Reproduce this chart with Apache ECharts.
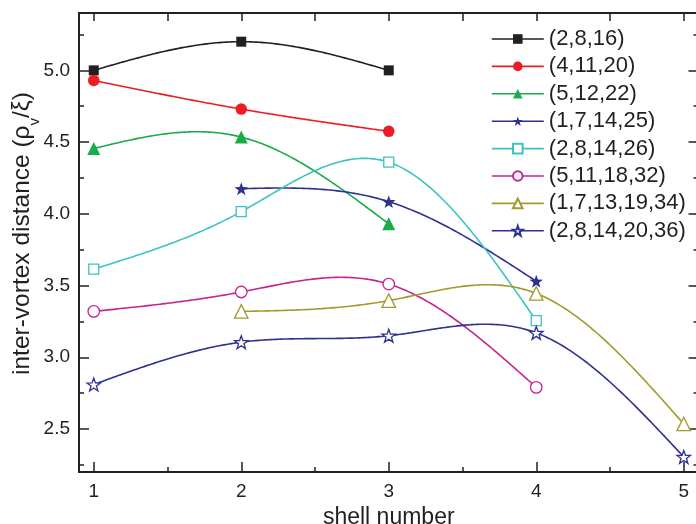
<!DOCTYPE html>
<html>
<head>
<meta charset="utf-8">
<script src="https://cdn.jsdelivr.net/npm/echarts@6/dist/echarts.min.js"></script>
<style>html,body{margin:0;padding:0;background:#fff;}#c{width:696px;height:524px;}</style>
</head>
<body>
<div id="c"></div>
<script>
// ---- data ----
var seriesNames = ['(2,8,16)','(4,11,20)','(5,12,22)','(1,7,14,25)','(2,8,14,26)','(5,11,18,32)','(1,7,13,19,34)','(2,8,14,20,36)'];
var shells1 = [1,2,3];       var vals1 = [5.00, 5.20, 5.00];
var shells2 = [1,2,3];       var vals2 = [4.93, 4.73, 4.575];
var shells3 = [1,2,3];       var vals3 = [4.455, 4.535, 3.93];
var shells4 = [2,3,4];       var vals4 = [4.175, 4.085, 3.53];
var shells5 = [1,2,3,4];     var vals5 = [3.615, 4.015, 4.36, 3.255];
var shells6 = [1,2,3,4];     var vals6 = [3.32, 3.455, 3.51, 2.79];
var shells7 = [2,3,4,5];     var vals7 = [3.32, 3.395, 3.445, 2.535];
var shells8 = [1,2,3,4,5];   var vals8 = [2.81, 3.105, 3.15, 3.17, 2.305];
var xTicks = [1,2,3,4,5];
var xMinorTicks = [1.5,2.5,3.5,4.5];
var yTicks = [2.5,3.0,3.5,4.0,4.5,5.0];
var yMinorTicks = [2.25,2.75,3.25,3.75,4.25,4.75,5.25];

var allShells = [shells1,shells2,shells3,shells4,shells5,shells6,shells7,shells8];
var allVals = [vals1,vals2,vals3,vals4,vals5,vals6,vals7,vals8];

function pairs(xs, ys){ return xs.map(function(x,i){ return [x, ys[i]]; }); }

// natural cubic spline (rendering of the connecting curve only)
function naturalSpline(xs, ys){
  var n = xs.length, M = new Array(n).fill(0);
  if (n > 2){
    var a=[],b=[],c=[],d=[];
    for (var i=1;i<n-1;i++){
      var h0 = xs[i]-xs[i-1], h1 = xs[i+1]-xs[i];
      a.push(h0); b.push(2*(h0+h1)); c.push(h1);
      d.push(6*((ys[i+1]-ys[i])/h1 - (ys[i]-ys[i-1])/h0));
    }
    var m = b.length;
    for (var k=1;k<m;k++){ var w=a[k]/b[k-1]; b[k]-=w*c[k-1]; d[k]-=w*d[k-1]; }
    var sol = new Array(m);
    sol[m-1] = d[m-1]/b[m-1];
    for (var k2=m-2;k2>=0;k2--) sol[k2] = (d[k2]-c[k2]*sol[k2+1])/b[k2];
    for (var j=0;j<m;j++) M[j+1]=sol[j];
  }
  return function(x){
    var i = 0;
    while (i < n-2 && x > xs[i+1]) i++;
    var h = xs[i+1]-xs[i], A=(xs[i+1]-x)/h, B=(x-xs[i])/h;
    return A*ys[i]+B*ys[i+1]+((A*A*A-A)*M[i]+(B*B*B-B)*M[i+1])*h*h/6;
  };
}

function starPath(){
  var pts = [];
  for (var i=0;i<10;i++){
    var r = (i%2===0)?50:20;
    var a = -Math.PI/2 + i*Math.PI/5;
    pts.push((50+r*Math.cos(a)).toFixed(2)+','+(50+r*Math.sin(a)).toFixed(2));
  }
  return 'path://M'+pts.join('L')+'Z';
}
var STAR = starPath();

var styles = [
  {color:'#231f20', symbol:'rect', size:10, open:false},
  {color:'#ed1c24', symbol:'circle', size:11.5, open:false},
  {color:'#1aab4b', symbol:'triangle', size:13, open:false},
  {color:'#2e3192', symbol:STAR, size:13.5, open:false},
  {color:'#3cc4c0', symbol:'rect', size:10, open:true},
  {color:'#c7258e', symbol:'circle', size:11.5, open:true},
  {color:'#a39a2e', symbol:'triangle', size:13.5, open:true},
  {color:'#2e3192', symbol:STAR, size:13.5, open:true}
];

var series = [];
allShells.forEach(function(xs,i){
  var s = styles[i], ys = allVals[i];
  var f = naturalSpline(xs, ys);
  series.push({
    name: seriesNames[i]+' curve', type:'custom', xAxisIndex:0, yAxisIndex:0,
    data: pairs(xs, ys), encode:{x:0,y:1}, silent:true, z:1, clip:true,
    renderItem: function(params, api){
      if (params.dataIndex !== 0) return null;
      var pts = [], x0 = xs[0], x1 = xs[xs.length-1], N = 60*(xs.length-1);
      for (var k=0;k<=N;k++){ var x = x0+(x1-x0)*k/N; pts.push(api.coord([x, f(x)])); }
      return {type:'polyline', shape:{points:pts}, style:{stroke:s.color, lineWidth:1.6, fill:null}};
    }
  });
});
allShells.forEach(function(xs,i){
  var s = styles[i];
  series.push({
    name: seriesNames[i], type:'line', data:pairs(xs, allVals[i]),
    xAxisIndex:0, yAxisIndex:0,
    symbol:s.symbol, symbolSize:s.size, symbolKeepAspect:true, showSymbol:true,
    lineStyle:{color:s.color, width:1.6, opacity:0},
    itemStyle:{color: s.open ? '#ffffff' : s.color, borderColor:s.color, borderWidth: s.open?1.3:0},
    emphasis:{disabled:true},
    z: 3
  });
});

var fontFam = 'Liberation Sans, Arial, sans-serif';
var XMIN=0.9, XMAX=5.1, YMIN=2.2, YMAX=5.4;
function xAx(pos, vals, len, labels, name){
  return {type:'value', position:pos, min:XMIN, max:XMAX,
    axisLine:{show:true, onZero:false, lineStyle:{color:'#231f20', width:1.8}},
    axisTick:{show:true, inside:true, length:len, customValues:vals, lineStyle:{color:'#231f20', width:1.5}},
    axisLabel:{show:labels, customValues:vals, margin:10, fontSize:19, color:'#231f20', fontFamily:fontFam},
    splitLine:{show:false},
    name: name||'', nameLocation:'middle', nameGap:24,
    nameTextStyle:{fontSize:23, color:'#231f20', fontFamily:fontFam}};
}
function yAx(pos, vals, len, labels, name){
  return {type:'value', position:pos, min:YMIN, max:YMAX,
    axisLine:{show:true, onZero:false, lineStyle:{color:'#231f20', width:1.8}},
    axisTick:{show:true, inside:true, length:len, customValues:vals, lineStyle:{color:'#231f20', width:1.5}},
    axisLabel:{show:labels, customValues:vals, margin:9, fontSize:19, color:'#231f20', fontFamily:fontFam,
      formatter:function(v){return v.toFixed(1);}},
    splitLine:{show:false},
    name: name||'', nameLocation:'middle', nameGap:44, nameRotate:90, nameMoveOverlap:false,
    nameTextStyle:{fontSize:24.5, color:'#231f20', fontFamily:fontFam, padding:[0,0,0,18],
      rich:{sub:{fontSize:15, verticalAlign:'bottom', color:'#231f20', fontFamily:fontFam, padding:[0,0,-7,0]}}}};
}

var option = {
  animation:false,
  backgroundColor:'#ffffff',
  grid:{left:79, top:13, width:619.5, height:459, containLabel:false, outerBoundsMode:'none'},
  legend:{
    orient:'vertical', left:486, top:23, itemWidth:52, itemHeight:12, itemGap:5.4,
    textStyle:{fontSize:22, color:'#231f20', fontFamily:fontFam, lineHeight:22},
    data: seriesNames.map(function(n,i){
      return {name:n, lineStyle:{opacity:1, width:1.6, color:styles[i].color}};
    })
  },
  xAxis:[
    xAx('bottom', xTicks, 10, true, 'shell number'),
    xAx('bottom', xMinorTicks, 5, false),
    xAx('top', xTicks, 8, false),
    xAx('top', xMinorTicks, 8, false)
  ],
  yAxis:[
    yAx('left', yTicks, 10, true, 'inter-vortex distance (ρ{sub|v}/ξ)'),
    yAx('left', yMinorTicks, 5, false),
    yAx('right', yTicks, 10, false),
    yAx('right', yMinorTicks, 5, false)
  ],
  series: series
};
var chart = echarts.init(document.getElementById('c'), null, {renderer:'canvas'});
chart.setOption(option);
</script>
</body>
</html>
